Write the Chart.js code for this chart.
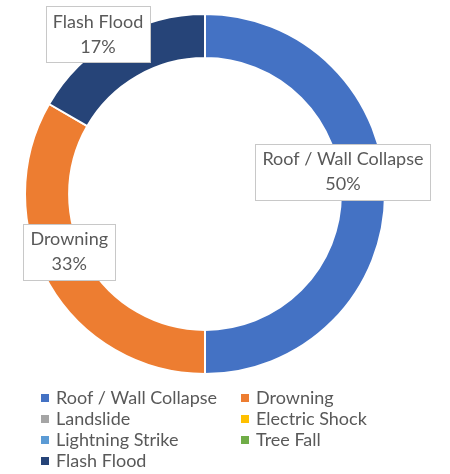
<!DOCTYPE html>
<html>
<head>
<meta charset="utf-8">
<script src="https://cdn.jsdelivr.net/npm/chart.js@4"></script>
<style>
html,body{margin:0;padding:0;background:#fff;}
#wrap{position:relative;width:450px;height:474px;}
</style>
</head>
<body>
<div id="wrap"><canvas id="c"></canvas></div>
<script>
const categories = ["Roof / Wall Collapse","Drowning","Landslide","Electric Shock","Lightning Strike","Tree Fall","Flash Flood"];
const values = [3, 2, 0, 0, 0, 0, 1];
const colors = ["#4472C4","#ED7D31","#A5A5A5","#FFC000","#5B9BD5","#70AD47","#264478"];
const labelOffsets = [[-20,-22],[1,-21],[0,0],[0,0],[0,0],[0,0],[-28,-23]];

const FONT = '"Lato", "Liberation Sans", sans-serif';
const FS = 18;
const TEXT = '#595959';

const dataLabels = {
  id: 'dataLabels',
  afterDatasetsDraw(chart) {
    const ctx = chart.ctx;
    const meta = chart.getDatasetMeta(0);
    const total = values.reduce((a,b)=>a+b,0);
    ctx.save();
    ctx.font = FS + 'px ' + FONT;
    ctx.textAlign = 'center';
    ctx.textBaseline = 'middle';
    meta.data.forEach((arc, i) => {
      if (!values[i]) return;
      const p = arc.tooltipPosition();
      const cx = p.x + labelOffsets[i][0];
      const cy = p.y + labelOffsets[i][1];
      const l1 = categories[i];
      const l2 = Math.round(values[i] / total * 100) + '%';
      const w = Math.max(ctx.measureText(l1).width, ctx.measureText(l2).width) + 14;
      const lh = 25;
      const h = lh * 2 + 6;
      ctx.fillStyle = '#fff';
      ctx.fillRect(Math.round(cx - w/2)+0.5, Math.round(cy - h/2)+0.5, Math.round(w), h);
      ctx.strokeStyle = '#C8C8C8';
      ctx.lineWidth = 1;
      ctx.strokeRect(Math.round(cx - w/2)+0.5, Math.round(cy - h/2)+0.5, Math.round(w), h);
      ctx.fillStyle = TEXT;
      ctx.fillText(l1, cx, cy - lh/2);
      ctx.fillText(l2, cx, cy + lh/2);
    });
    ctx.restore();
  }
};

const gridLegend = {
  id: 'gridLegend',
  afterDraw(chart) {
    const ctx = chart.ctx;
    ctx.save();
    ctx.font = FS + 'px ' + FONT;
    ctx.textBaseline = 'middle';
    ctx.textAlign = 'left';
    categories.forEach((name, i) => {
      const col = i % 2, row = Math.floor(i / 2);
      const x = 41 + col * 200;
      const y = 398 + row * 21;
      ctx.fillStyle = colors[i];
      ctx.fillRect(x, y - 4, 8, 8);
      ctx.fillStyle = TEXT;
      ctx.fillText(name, x + 15, y);
    });
    ctx.restore();
  }
};

new Chart(document.getElementById('c'), {
  type: 'doughnut',
  data: {
    labels: categories,
    datasets: [{
      data: values,
      backgroundColor: colors,
      borderColor: '#ffffff',
      borderWidth: 2
    }]
  },
  options: {
    responsive: true,
    maintainAspectRatio: false,
    animation: false,
    cutout: '75.5%',
    layout: { padding: { left: 24, right: 64, top: 13, bottom: 99 } },
    plugins: {
      legend: { display: false },
      tooltip: { enabled: false }
    }
  },
  plugins: [dataLabels, gridLegend]
});
</script>
</body>
</html>
